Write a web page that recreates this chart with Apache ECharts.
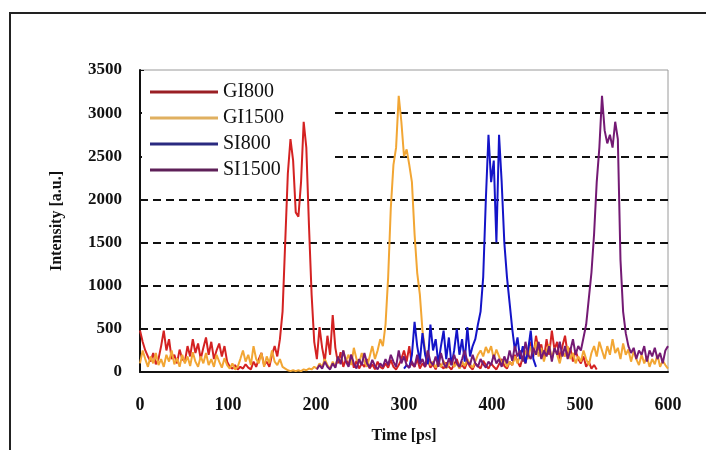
<!DOCTYPE html>
<html><head><meta charset="utf-8">
<script src="https://cdn.jsdelivr.net/npm/echarts@6/dist/echarts.min.js"></script>
<style>html,body{margin:0;padding:0;background:#fff}#c{width:706px;height:450px}</style>
</head><body><div id="c"></div>
<script>
const seriesNames = ['GI800', 'GI1500', 'SI800', 'SI1500'];
const xTicks = [0, 100, 200, 300, 400, 500, 600];
const yTicks = [0, 500, 1000, 1500, 2000, 2500, 3000, 3500];
const sampleStep = 3; // ps between samples

// GI800 samples from t = 0 ps
const gi800Start = 0;
const gi800 = [480,350,250,180,120,220,90,150,300,480,250,380,150,200,100,260,150,120,300,180,
380,220,330,150,280,400,200,350,150,250,330,180,300,120,60,40,80,30,60,40,
90,50,30,120,60,150,220,80,120,60,200,300,180,380,700,1500,2300,2700,2450,1850,
1800,2200,2900,2600,1700,900,350,150,520,280,120,420,200,660,280,100,230,60,150,80,
200,50,130,40,100,60,150,40,90,30,120,60,40,100,50,140,60,30,80,150,
250,120,300,90,60,150,40,100,60,140,50,90,30,120,70,40,110,60,30,90,
150,50,80,40,120,60,30,100,70,40,130,80,40,100,60,30,90,150,70,40,
120,80,200,120,60,180,100,250,350,180,420,250,320,150,380,200,480,260,350,150,
300,420,200,280,120,250,150,100,180,60,120,40,80,30];

// GI1500 samples from t = 0 ps
const gi1500Start = 0;
const gi1500 = [100,250,150,60,180,100,220,80,150,60,200,120,250,90,160,60,200,100,180,70,
230,120,60,180,100,220,80,150,60,200,120,50,160,80,40,100,30,60,150,250,
120,200,80,300,150,100,220,60,180,100,250,120,80,150,60,40,20,10,20,10,
20,10,30,20,40,30,60,40,100,60,150,80,40,120,60,180,100,250,130,200,
80,280,150,100,220,120,60,180,300,150,250,380,300,550,1100,1900,2400,2600,3200,2900,
2500,2580,2400,2200,1600,1150,900,480,250,150,80,120,50,100,60,130,40,90,150,60,
100,40,120,70,150,90,50,120,200,250,180,290,220,300,150,260,180,100,150,60,
120,80,180,100,200,120,250,150,300,200,350,180,280,120,250,320,150,280,200,100,
240,180,300,150,220,100,180,120,250,150,80,220,300,180,350,250,150,300,200,380,
220,280,150,330,200,260,120,240,150,80,200,100,180,60,150,90,200,60,130,80,40];

// SI800 samples from t = 300 ps
const si800Start = 300;
const si800 = [40,80,50,200,580,300,120,450,200,90,550,250,380,100,300,480,150,400,80,250,
500,200,380,120,520,180,300,380,550,700,1100,2000,2750,2200,2450,1500,2750,2200,1500,1100,
800,500,250,400,150,300,100,250,480,150,60];

// SI1500 samples from t = 201 ps
const si1500Start = 201;
const si1500 = [30,80,40,120,60,30,100,50,180,90,250,120,60,200,100,40,150,80,220,100,
50,140,70,30,100,60,150,80,200,120,60,250,100,180,80,50,120,60,200,90,
150,60,250,120,80,180,60,220,100,50,160,80,200,100,60,150,250,120,80,200,
100,60,150,90,50,120,80,200,100,150,60,180,100,250,130,300,180,250,120,350,
200,150,280,200,350,150,250,180,300,120,280,200,350,180,300,150,250,380,200,300,
250,400,550,850,1150,1600,2200,2600,3200,2800,2650,2750,2600,2900,2700,1300,700,450,300,220,
280,150,250,200,300,120,250,180,280,150,220,100,250,300];

const colors = ['#d42222', '#f2a634', '#1414c8', '#741a74'];
const legendColors = ['#9a1f24', '#e0b060', '#2a2a80', '#5e2058'];

function toPairs(start, vals) { return vals.map((v, i) => [start + i * sampleStep, v]); }
const seriesData = [
  toPairs(gi800Start, gi800),
  toPairs(gi1500Start, gi1500),
  toPairs(si800Start, si800),
  toPairs(si1500Start, si1500)
];

const serif = '"Liberation Serif", "Times New Roman", serif';
const chart = echarts.init(document.getElementById('c'), null, {renderer: 'canvas'});
chart.setOption({
  backgroundColor: '#fff',
  animation: false,
  color: colors,
  grid: {left: 140, right: 38, top: 70, bottom: 78, show: true, borderColor: '#9a9a9a', borderWidth: 1, backgroundColor: 'transparent'},
  legend: {
    orient: 'vertical', left: 145, top: 77,
    icon: 'rect', itemWidth: 68, itemHeight: 3, itemGap: 6,
    textStyle: {fontFamily: serif, fontSize: 20, lineHeight: 20, color: '#111'},
    data: seriesNames.map((n, i) => ({name: n, itemStyle: {color: legendColors[i]}}))
  },
  graphic: [
    {type: 'rect', z: 1, shape: {x: 142, y: 72, width: 192, height: 100}, style: {fill: '#fff'}},
    {type: 'rect', z: 10, shape: {x: 10, y: 13, width: 720, height: 460}, style: {fill: 'transparent', stroke: '#222', lineWidth: 2}}
  ],
  xAxis: {
    type: 'value', min: xTicks[0], max: xTicks[xTicks.length - 1], interval: 100,
    name: 'Time [ps]', nameLocation: 'middle', nameGap: 56,
    nameTextStyle: {fontFamily: serif, fontSize: 16, fontWeight: 'bold', color: '#111'},
    axisLine: {lineStyle: {color: '#111', width: 2}},
    axisTick: {show: false},
    splitLine: {show: false},
    axisLabel: {fontFamily: serif, fontSize: 18, fontWeight: 'bold', color: '#111', margin: 24}
  },
  yAxis: {
    type: 'value', min: yTicks[0], max: yTicks[yTicks.length - 1], interval: 500,
    name: 'Intensity [a.u.]', nameLocation: 'middle', nameGap: 75,
    nameTextStyle: {fontFamily: serif, fontSize: 16, fontWeight: 'bold', color: '#111'},
    axisLine: {show: true, lineStyle: {color: '#111', width: 2}},
    axisTick: {show: true, inside: true, length: 4, lineStyle: {color: '#111'}},
    splitLine: {show: true, showMaxLine: false, showMinLine: false, lineStyle: {color: '#111', width: 2, type: [8, 5]}},
    axisLabel: {fontFamily: serif, fontSize: 17, fontWeight: 'bold', color: '#111', margin: 18,
      formatter: v => String(v)}
  },
  series: seriesNames.map((n, i) => ({
    name: n, type: 'line', data: seriesData[i], symbol: 'none', showSymbol: false,
    z: 2, lineStyle: {width: 2, color: colors[i]}, itemStyle: {color: colors[i]}
  }))
});
</script>
</body></html>
